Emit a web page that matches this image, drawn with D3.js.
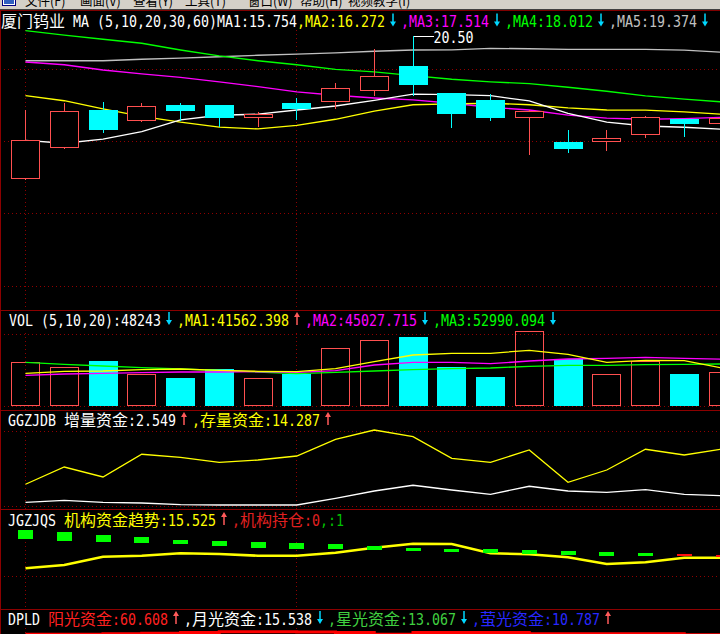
<!DOCTYPE html>
<html><head><meta charset="utf-8">
<script src="https://cdn.jsdelivr.net/npm/d3@7"></script>
<style>
html,body{margin:0;padding:0;background:#000;overflow:hidden}
svg{display:block}
</style></head><body>
<svg id="c" width="720" height="634"></svg>
<script>
// ---------- DATA ----------
const opens  = [13.76,15.23,17.00,16.54,17.24,17.24,16.68,17.33,17.44,17.96,19.09,17.81,17.48,16.68,15.48,15.54,15.87,16.59,16.40];
const highs  = [17.00,17.35,17.38,17.33,17.33,17.24,16.91,17.56,18.30,19.90,20.50,17.81,17.76,17.00,16.05,16.05,16.71,16.59,16.71];
const lows   = [13.68,15.15,15.92,16.43,16.49,16.18,16.19,16.53,17.06,17.68,17.68,16.16,16.49,14.86,14.97,15.07,15.68,15.73,16.29];
const closes = [15.56,16.95,16.06,17.18,16.97,16.63,16.81,17.06,18.03,18.60,18.19,16.82,16.62,16.94,15.15,15.67,16.65,16.34,16.62];
const ma1 = [15.56,15.42,15.62,15.97,16.53,16.75,16.80,17.00,17.19,17.46,17.75,17.73,17.68,17.43,16.84,16.42,16.24,16.18,16.08];
const ma2 = [17.68,17.44,17.05,16.70,16.42,16.19,16.10,16.27,16.56,16.95,17.25,17.29,17.32,17.25,17.10,17.00,16.99,16.91,16.80];
const ma3 = [19.28,19.15,18.90,18.72,18.55,18.34,18.11,17.86,17.70,17.57,17.48,17.32,17.13,17.00,16.76,16.61,16.56,16.59,16.65];
const ma4 = [20.77,20.56,20.36,20.17,19.85,19.57,19.34,19.15,18.93,18.81,18.63,18.46,18.34,18.25,18.08,17.89,17.67,17.52,17.38];
const ma5 = [19.34,19.34,19.34,19.41,19.46,19.53,19.60,19.65,19.71,19.79,19.85,19.86,19.93,19.91,19.88,19.88,19.88,19.84,19.74];
const priceGrid = [18.93,15.50,12.07,8.64];
const maxLabel = "20.50";

const volumes = [61600,54200,63000,44800,39200,51800,38800,45200,80800,92000,96600,54600,40600,104600,65800,44400,63000,44800,48243];
const volMa1 = [45780,48580,49000,50820,51800,49980,48580,48020,52220,62020,71400,73780,73780,77980,72380,61180,63980,63420,52780];
const volMa2 = [42980,44800,45780,46620,47600,47600,48020,47180,49420,57400,61180,61180,59220,63000,65800,66780,68180,66780,65380];
const volMa3 = [61180,58380,56000,53620,51800,49980,47600,45220,47180,49000,50820,52220,53200,55580,56980,56980,57820,58380,58800];
const volGrid = [0,100000];

const zlIncrement = [0.93,1.43,0.93,0.75,0.33,0.25,0.25,0.25,1.93,3.75,5.18,4.00,2.93,4.93,3.75,3.43,4.08,2.93,2.549];
const zlStock     = [5.43,9.75,7.25,12.93,12.18,10.93,11.50,12.50,16.68,19.00,17.33,11.93,10.93,14.00,5.93,9.00,14.18,12.75,14.287];
const ggGrid = [0,18.6];

const jgTrend   = [10.23,11.88,16.03,16.53,17.73,17.38,16.53,16.53,18.03,20.53,22.53,22.38,17.73,17.23,15.73,12.38,13.23,15.53,15.525];
const jgHoldHi  = [29.38,28.23,26.88,25.88,24.38,23.88,23.38,22.88,22.38,21.38,20.38,19.88,19.88,19.38,18.88,18.38,17.88,17.38,16.88];
const jgHoldLo  = [24.73,24.03,23.38,23.03,22.38,21.38,20.38,19.88,19.88,19.53,18.88,18.38,17.88,17.38,16.88,16.38,16.38,16.38,16.13];
const jgHoldDir = [1,1,1,1,1,1,1,1,1,1,1,1,1,1,1,1,1,-1,-1];
const jgGrid = [6.375];

const dpSun = [63.3,63.3,65.2,68.1,71.4,74.8,74.8,73.8,71.4,63.3,71.4,71.4,71.4,65.2,65.2,65.2,65.2,60.6,60.608];

const menuItems = ["文件(F)","画面(V)","查看(Y)","工具(T)","窗口(W)","帮助(H)","视频教学(I)"];

// ---------- SETUP ----------
const svg = d3.select('#c');
const W = 720, H = 634;
const C = {red:'#ff5050', cyan:'#00ffff', white:'#ffffff', yellow:'#ffff00', magenta:'#ff00ff',
           green:'#00ff00', gray:'#c0c0c0', grid:'#900000', sep:'#8c0000', arrowC:'#00d8ff', arrowR:'#ff5a5a'};
svg.append('rect').attr('width',W).attr('height',H).attr('fill','#000');

const n = opens.length;
const x = d3.scaleLinear().domain([0, 18]).range([25.5, 723]);
const px = v => Math.floor(v) + 0.5;

const yP = d3.scaleLinear().domain([7.5, 20.8]).range([310, 30]);
const yV = d3.scaleLinear().domain([0, 100000]).range([406, 334.57]);
const yG = d3.scaleLinear().domain([0, 24]).range([506, 410]);
const yJ = d3.scaleLinear().domain([0, 40]).range([588.75, 508.75]);
const yD = d3.scaleLinear().domain([0, 100]).range([647.5, 626.5]);

// ---------- GRID ----------
const grid = svg.append('g').attr('stroke', C.grid).attr('stroke-width',1).attr('stroke-dasharray','1,3').attr('shape-rendering','crispEdges');
function hgrid(scale, vals){ vals.forEach(v=>grid.append('line').attr('x1',0).attr('x2',W).attr('y1',px(scale(v))).attr('y2',px(scale(v)))); }
hgrid(yP, priceGrid); hgrid(yV, volGrid); hgrid(yG, ggGrid); hgrid(yJ, jgGrid);
const vBands = [[30,310],[333,410],[432,509],[530,609],[628,634]];
[0,7].forEach(i=>vBands.forEach(b=>grid.append('line').attr('x1',px(x(i))).attr('x2',px(x(i))).attr('y1',b[0]).attr('y2',b[1])));

// separators
const sep = svg.append('g').attr('stroke', C.sep).attr('stroke-width',1).attr('shape-rendering','crispEdges');
[310,410,509,609].forEach(yy=>sep.append('line').attr('x1',0).attr('x2',W).attr('y1',yy+0.5).attr('y2',yy+0.5));
sep.append('line').attr('x1',0.5).attr('x2',0.5).attr('y1',9).attr('y2',H);

// ---------- PRICE PANE ----------
const line = (scale, arr) => d3.line().x((d,i)=>x(i)).y(d=>scale(d))(arr);
[[ma5,C.gray],[ma4,C.green],[ma3,C.magenta],[ma2,C.yellow],[ma1,C.white]].forEach(([a,c])=>{
  svg.append('path').attr('d', line(yP,a)).attr('fill','none').attr('stroke',c).attr('stroke-width',1.3);
});
const cg = svg.append('g').attr('shape-rendering','crispEdges');
for(let i=0;i<n;i++){
  const up = closes[i] >= opens[i];
  const col = up ? C.red : C.cyan;
  const cx = x(i);
  cg.append('line').attr('x1',px(cx)).attr('x2',px(cx)).attr('y1',yP(highs[i])).attr('y2',yP(lows[i])).attr('stroke',col).attr('stroke-width',1);
  const top = yP(Math.max(opens[i],closes[i])), bot = yP(Math.min(opens[i],closes[i]));
  if(up){
    cg.append('rect').attr('x',Math.round(cx-14.5)+0.5).attr('y',Math.round(top)+0.5).attr('width',28).attr('height',Math.max(1,Math.round(bot)-Math.round(top)))
      .attr('fill','#000').attr('stroke',col).attr('stroke-width',1);
  } else {
    cg.append('rect').attr('x',Math.round(cx-14.5)).attr('y',Math.round(top)).attr('width',29).attr('height',Math.max(1,Math.round(bot)-Math.round(top))).attr('fill',col);
  }
}
// max label
const iMax = highs.indexOf(d3.max(highs));
svg.append('line').attr('x1',px(x(iMax))).attr('x2',px(x(iMax))+20).attr('y1',px(yP(highs[iMax]))).attr('y2',px(yP(highs[iMax]))).attr('stroke','#fff').attr('shape-rendering','crispEdges');

// ---------- VOLUME PANE ----------
const vg = svg.append('g').attr('shape-rendering','crispEdges');
for(let i=0;i<n;i++){
  const up = closes[i] >= opens[i];
  const cx = x(i);
  const top = Math.round(yV(volumes[i])), bot = Math.round(yV(0));
  if(up){
    vg.append('rect').attr('x',Math.round(cx-14.5)+0.5).attr('y',top+0.5).attr('width',28).attr('height',bot-top-1).attr('fill','none').attr('stroke',C.red);
  } else {
    vg.append('rect').attr('x',Math.round(cx-14.5)).attr('y',top).attr('width',29).attr('height',bot-top).attr('fill',C.cyan);
  }
}
[[volMa3,C.green],[volMa2,C.magenta],[volMa1,C.yellow]].forEach(([a,c])=>{
  svg.append('path').attr('d', line(yV,a)).attr('fill','none').attr('stroke',c).attr('stroke-width',1.3);
});

// ---------- GGZJDB PANE ----------
svg.append('path').attr('d', line(yG,zlStock)).attr('fill','none').attr('stroke',C.yellow).attr('stroke-width',1.3);
svg.append('path').attr('d', line(yG,zlIncrement)).attr('fill','none').attr('stroke',C.white).attr('stroke-width',1.3);

// ---------- JGZJQS PANE ----------
svg.append('path').attr('d', line(yJ,jgTrend)).attr('fill','none').attr('stroke',C.yellow).attr('stroke-width',2.6);
const jg = svg.append('g').attr('shape-rendering','crispEdges');
for(let i=0;i<n;i++){
  const t = Math.round(yJ(jgHoldHi[i])), b = Math.round(yJ(jgHoldLo[i]));
  jg.append('rect').attr('x',Math.round(x(i)-7.5)).attr('y',t).attr('width',15).attr('height',Math.max(2,b-t))
    .attr('fill', jgHoldDir[i]>0 ? '#00ff00' : '#ff1010');
}

// ---------- DPLD PANE ----------
svg.append('path').attr('d', d3.line().x((d,i)=>x(i)).y(d=>yD(d)).curve(d3.curveStepAfter)(dpSun)).attr('fill','none').attr('stroke','#ff0000').attr('stroke-width',3);

// ---------- MENU BAR ----------
svg.append('rect').attr('x',0).attr('y',0).attr('width',W).attr('height',9).attr('fill','#d4d0c8');
svg.append('line').attr('x1',0).attr('x2',W).attr('y1',9.5).attr('y2',9.5).attr('stroke','#404040');
svg.append('line').attr('x1',0).attr('x2',W).attr('y1',10.5).attr('y2',10.5).attr('stroke','#800000');
svg.append('rect').attr('x',2.5).attr('y',-4.5).attr('width',13).attr('height',10).attr('fill','#fff').attr('stroke','#000080');
svg.append('rect').attr('x',4).attr('y',0).attr('width',10).attr('height',4).attr('fill','#3060c0');
const menuX = [25,80,133,185,248,300,348];
menuItems.forEach((t,i)=>svg.append('text').attr('x',menuX[i]).attr('y',6).attr('font-family','"Noto Sans CJK SC"').attr('font-size',12.5).attr('fill','#000').text(t));

// ---------- TEXT LABELS ----------
function kind(ch){ if(ch===' ') return 's'; return /[\u2E80-\u9fff\uff00-\uffef]/.test(ch) ? 'c' : 'a'; }
function drawArrow(cx, base, dir, col){
  const top = base-13.5, bot = base-0.5;
  const g = svg.append('g');
  if(dir==='down'){
    g.append('line').attr('x1',cx).attr('x2',cx).attr('y1',top).attr('y2',bot-4).attr('stroke',col).attr('stroke-width',1.5);
    g.append('path').attr('d',`M${cx-3},${bot-5}L${cx+3},${bot-5}L${cx},${bot}Z`).attr('fill',col);
  } else {
    g.append('line').attr('x1',cx).attr('x2',cx).attr('y1',top+4).attr('y2',bot).attr('stroke',col).attr('stroke-width',1.5);
    g.append('path').attr('d',`M${cx-3},${top+5}L${cx+3},${top+5}L${cx},${top}Z`).attr('fill',col);
  }
}
function label(x0, base, segs){
  let xx = x0;
  segs.forEach(s=>{
    if(s.arrow){ drawArrow(xx+8, base, s.arrow, s.c); xx += 16; return; }
    const runs=[]; let cur=null;
    for(const ch of s.t){ const k=kind(ch); if(!cur||cur.k!==k){cur={k,t:''};runs.push(cur);} cur.t+=ch; }
    runs.forEach(r=>{
      const w = [...r.t].length * (r.k==='c'?16:8);
      if(r.k!=='s'){
        svg.append('text').attr('x',xx).attr('y',base).attr('fill',s.c)
          .attr('font-family', r.k==='c' ? '"Noto Sans CJK SC"' : '"DejaVu Sans Mono"')
          .attr('font-size', r.k==='c' ? 15.5 : 15)
          .attr('textLength', w).attr('lengthAdjust','spacingAndGlyphs').text(r.t);
      }
      xx += w;
    });
  });
}
label(1, 27, [
  {t:'厦门钨业 MA (5,10,20,30,60)MA1:15.754', c:C.white},
  {t:',MA2:16.272', c:C.yellow}, {arrow:'down', c:C.arrowC},
  {t:',MA3:17.514', c:C.magenta}, {arrow:'down', c:C.arrowC},
  {t:',MA4:18.012', c:C.green}, {arrow:'down', c:C.arrowC},
  {t:',MA5:19.374', c:C.gray}, {arrow:'down', c:C.arrowC}
]);
label(px(x(iMax))+20, 42.5, [{t:maxLabel, c:C.white}]);
label(9, 325.5, [
  {t:'VOL (5,10,20):48243', c:C.white}, {arrow:'down', c:C.arrowC},
  {t:',MA1:41562.398', c:C.yellow}, {arrow:'up', c:C.arrowR},
  {t:',MA2:45027.715', c:C.magenta}, {arrow:'down', c:C.arrowC},
  {t:',MA3:52990.094', c:C.green}, {arrow:'down', c:C.arrowC}
]);
label(8, 425.5, [
  {t:'GGZJDB 增量资金:2.549', c:C.white}, {arrow:'up', c:C.arrowR},
  {t:',存量资金:14.287', c:C.yellow}, {arrow:'up', c:C.arrowR}
]);
label(8, 525.5, [
  {t:'JGZJQS ', c:C.white},
  {t:'机构资金趋势:15.525', c:C.yellow}, {arrow:'up', c:C.arrowR},
  {t:',机构持仓:0', c:'#e02020'},
  {t:',:1', c:'#00c000'}
]);
label(8, 624.5, [
  {t:'DPLD ', c:C.white},
  {t:'阳光资金:60.608', c:'#ff2020'}, {arrow:'up', c:C.arrowR},
  {t:',月光资金:15.538', c:C.white}, {arrow:'down', c:C.arrowC},
  {t:',星光资金:13.067', c:'#40d040'}, {arrow:'down', c:C.arrowC},
  {t:',萤光资金:10.787', c:'#2828ff'}, {arrow:'up', c:C.arrowR}
]);
</script>
</body></html>
